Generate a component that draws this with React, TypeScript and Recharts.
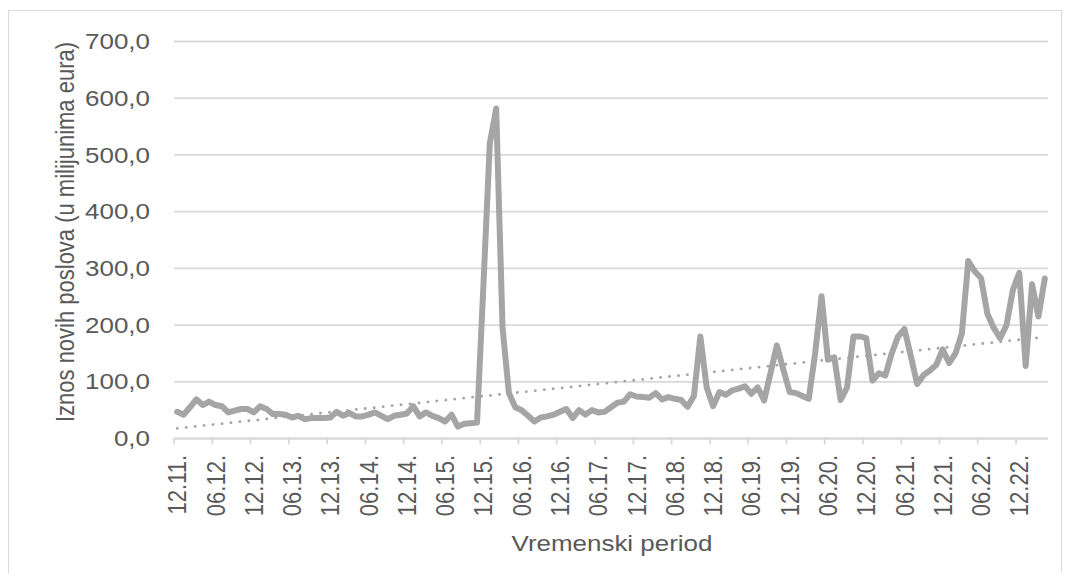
import React from "react";
import { LineChart, Line, XAxis, YAxis, CartesianGrid } from "recharts";

const periods = [
  "12.11.",
  "01.12.", "02.12.", "03.12.", "04.12.", "05.12.", "06.12.", "07.12.", "08.12.", "09.12.", "10.12.", "11.12.", "12.12.",
  "01.13.", "02.13.", "03.13.", "04.13.", "05.13.", "06.13.", "07.13.", "08.13.", "09.13.", "10.13.", "11.13.", "12.13.",
  "01.14.", "02.14.", "03.14.", "04.14.", "05.14.", "06.14.", "07.14.", "08.14.", "09.14.", "10.14.", "11.14.", "12.14.",
  "01.15.", "02.15.", "03.15.", "04.15.", "05.15.", "06.15.", "07.15.", "08.15.", "09.15.", "10.15.", "11.15.", "12.15.",
  "01.16.", "02.16.", "03.16.", "04.16.", "05.16.", "06.16.", "07.16.", "08.16.", "09.16.", "10.16.", "11.16.", "12.16.",
  "01.17.", "02.17.", "03.17.", "04.17.", "05.17.", "06.17.", "07.17.", "08.17.", "09.17.", "10.17.", "11.17.", "12.17.",
  "01.18.", "02.18.", "03.18.", "04.18.", "05.18.", "06.18.", "07.18.", "08.18.", "09.18.", "10.18.", "11.18.", "12.18.",
  "01.19.", "02.19.", "03.19.", "04.19.", "05.19.", "06.19.", "07.19.", "08.19.", "09.19.", "10.19.", "11.19.", "12.19.",
  "01.20.", "02.20.", "03.20.", "04.20.", "05.20.", "06.20.", "07.20.", "08.20.", "09.20.", "10.20.", "11.20.", "12.20.",
  "01.21.", "02.21.", "03.21.", "04.21.", "05.21.", "06.21.", "07.21.", "08.21.", "09.21.", "10.21.", "11.21.", "12.21.",
  "01.22.", "02.22.", "03.22.", "04.22.", "05.22.", "06.22.", "07.22.", "08.22.", "09.22.", "10.22.", "11.22.", "12.22.",
  "01.23.", "02.23.", "03.23.", "04.23.",
];

const amounts = [
  47,
  42, 55, 69, 59, 65, 59, 57, 46, 49, 52, 52, 46,
  57, 52, 43, 43, 42, 37, 40, 34, 36, 36, 36, 37,
  47, 40, 45, 39, 39, 42, 46, 40, 34, 40, 42, 44,
  57, 39, 46, 40, 36, 30, 42, 21, 26, 27, 28, 270,
  520, 582, 195, 80, 55, 50, 40, 30, 37, 39, 42, 47,
  52, 36, 50, 42, 50, 46, 47, 55, 63, 65, 78, 74,
  73, 72, 80, 69, 73, 70, 68, 56, 75, 180, 90, 57,
  82, 77, 85, 88, 92, 79, 90, 67, 115, 164, 122, 82,
  80, 75, 70, 150, 251, 139, 143, 68, 90, 180, 180, 177,
  102, 115, 111, 150, 180, 193, 145, 96, 112, 120, 130, 157,
  133, 150, 185, 313, 295, 283, 220, 195, 177, 200, 262, 292,
  128, 272, 215, 282,
];

const yTicks = [0, 100, 200, 300, 400, 500, 600, 700];
const trendStart = 18;
const trendEnd = 179;

const data = periods.map((p, i) => ({
  period: p,
  amount: amounts[i],
  trend: i === 0 ? trendStart : i === periods.length - 1 ? trendEnd : null,
}));

const FONT = "'Liberation Sans', Arial, sans-serif";
const TEXT = "#595959";
const GRID = "#d9d9d9";
const LINE = "#a5a5a5";
const FS = 22;
const SX = 1.18;

const YTick = (props: any) => {
  const { x, y, payload } = props;
  return (
    <text
      transform={`translate(${x - 24},${y}) scale(${SX},1)`}
      textAnchor="end"
      dy="0.35em"
      fill={TEXT}
      fontSize={FS}
      fontFamily={FONT}
    >
      {Number(payload.value).toFixed(1).replace(".", ",")}
    </text>
  );
};

const XTick = (props: any) => {
  const { x, y, payload } = props;
  return (
    <g>
      <line x1={x - 3.2} x2={x - 3.2} y1={y} y2={y + 6} stroke={GRID} strokeWidth={1.8} />
      <text
        transform={`translate(${x},${y + 16.5}) scale(${SX},1) rotate(-90)`}
        textAnchor="end"
        dy="0.35em"
        fill={TEXT}
        fontSize={FS}
        fontFamily={FONT}
      >
        {payload.value}
      </text>
    </g>
  );
};

const XTitle = (props: any) => {
  const vb = props.viewBox || { x: 166, y: 430.5, width: 874 };
  const cx = vb.x + vb.width / 2 + 1;
  const y = vb.y + 112;
  return (
    <text
      transform={`translate(${cx},${y}) scale(${SX},1)`}
      textAnchor="middle"
      fill={TEXT}
      fontSize={FS}
      fontFamily={FONT}
    >
      Vremenski period
    </text>
  );
};

const YTitle = (props: any) => {
  const cx = 57;
  const cy = 224;
  return (
    <text
      transform={`translate(${cx},${cy}) scale(${SX},1) rotate(-90)`}
      textAnchor="middle"
      dy="0.35em"
      fill={TEXT}
      fontSize={FS}
      fontFamily={FONT}
    >
      Iznos novih poslova (u milijunima eura)
    </text>
  );
};

export default function App() {
  return (
    <div
      style={{
        position: "relative",
        top: 2,
        width: 1054,
        height: 565,
        boxSizing: "border-box",
        borderTop: `1px solid ${GRID}`,
        borderLeft: `1px solid ${GRID}`,
        borderRight: `1px solid ${GRID}`,
      }}
    >
      <style>{`html,body{overflow:hidden}`}</style>
      <div style={{ position: "absolute", left: -1, top: -3 }}>
        <LineChart
          width={1054}
          height={574}
          data={data}
          margin={{ top: 33.5, right: 14, bottom: 0, left: 0 }}
        >
          <CartesianGrid vertical={false} stroke={GRID} strokeWidth={1.8} />
          <XAxis
            dataKey="period"
            interval={5}
            tick={<XTick />}
            tickLine={false}
            tickSize={0}
            tickMargin={0}
            axisLine={{ stroke: GRID, strokeWidth: 1.8 }}
            height={143.5}
            padding={{ left: 3.2, right: 3.2 }}
            label={(p: any) => <XTitle {...p} />}
          />
          <YAxis
            width={166}
            domain={[0, 700]}
            ticks={yTicks}
            tick={<YTick />}
            axisLine={false}
            tickLine={false}
            tickSize={0}
            tickMargin={0}
            label={(p: any) => <YTitle {...p} />}
          />
          <Line
            dataKey="amount"
            stroke={LINE}
            strokeWidth={6}
            strokeLinejoin="round"
            strokeLinecap="round"
            dot={false}
            activeDot={false}
            isAnimationActive={false}
          />
          <Line
            dataKey="trend"
            stroke={LINE}
            strokeWidth={2.8}
            strokeDasharray="0.1 8.9"
            strokeLinecap="round"
            dot={false}
            activeDot={false}
            connectNulls
            isAnimationActive={false}
          />
        </LineChart>
      </div>
    </div>
  );
}
